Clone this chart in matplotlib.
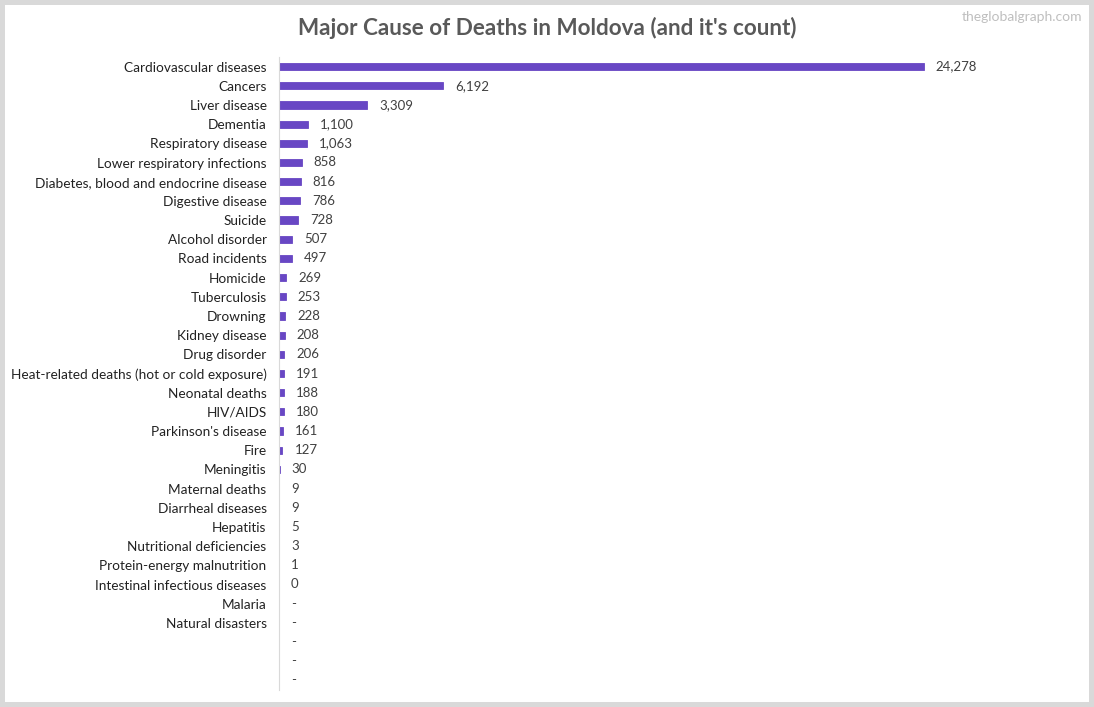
import numpy as np
import matplotlib.pyplot as plt
from matplotlib.patches import Rectangle

plt.rcParams['font.family'] = ['Lato', 'DejaVu Sans']

causes = ['Cardiovascular diseases', 'Cancers', 'Liver disease', 'Dementia',
          'Respiratory disease', 'Lower respiratory infections',
          'Diabetes, blood and endocrine disease', 'Digestive disease', 'Suicide',
          'Alcohol disorder', 'Road incidents', 'Homicide', 'Tuberculosis',
          'Drowning', 'Kidney disease', 'Drug disorder',
          'Heat-related deaths (hot or cold exposure)', 'Neonatal deaths',
          'HIV/AIDS', "Parkinson's disease", 'Fire', 'Meningitis',
          'Maternal deaths', 'Diarrheal diseases', 'Hepatitis',
          'Nutritional deficiencies', 'Protein-energy malnutrition',
          'Intestinal infectious diseases', 'Malaria', 'Natural disasters',
          '', '', '']
deaths = [24278, 6192, 3309, 1100, 1063, 858, 816, 786, 728, 507, 497, 269,
          253, 228, 208, 206, 191, 188, 180, 161, 127, 30, 9, 9, 5, 3, 1, 0,
          None, None, None, None, None]

bar_color = '#6847C4'

fig = plt.figure(figsize=(10.94, 7.07), dpi=100)
ax = fig.add_axes([279 / 1094, 1 - 690 / 707, 765 / 1094, (690 - 57) / 707])

y = np.arange(len(causes))
vals = np.array([np.nan if v is None else v for v in deaths], dtype=float)
has_val = ~np.isnan(vals)
# thin edge so the tiny counts still leave a mark, like the original
ax.barh(y[has_val], vals[has_val], height=0.37, color=bar_color,
        edgecolor=bar_color, linewidth=0.6)

xmax = 28800
ax.set_xlim(0, xmax)
ax.set_ylim(len(causes) - 0.5, -0.5)

off = xmax * 12 / 765
for i, v in enumerate(deaths):
    txt = '-' if v is None else f'{v:,}'
    xv = 0 if v is None else v
    ax.text(xv + off, i, txt, va='center', ha='left', fontsize=9.5, color='#404040')

ax.set_yticks(y, causes, fontsize=9.8, color='#222222')
ax.tick_params(axis='y', length=0, pad=9)
ax.set_xticks([])
for s in ['top', 'right', 'bottom']:
    ax.spines[s].set_visible(False)
ax.spines['left'].set_color('#d9d9d9')

fig.text(547 / 1094, 1 - 28 / 707, "Major Cause of Deaths in Moldova (and it's count)",
         ha='center', va='center', fontsize=16.2, fontweight='bold', color='#595959')
fig.text(1082 / 1094, 1 - 17 / 707, 'theglobalgraph.com', ha='right', va='center',
         fontsize=10, color='#bfbfbf')

fig.patches.append(Rectangle((0, 0), 1, 1, transform=fig.transFigure, fill=False,
                             edgecolor='#d9d9d9', linewidth=7.2))

fig.savefig('out.png', dpi=100)
